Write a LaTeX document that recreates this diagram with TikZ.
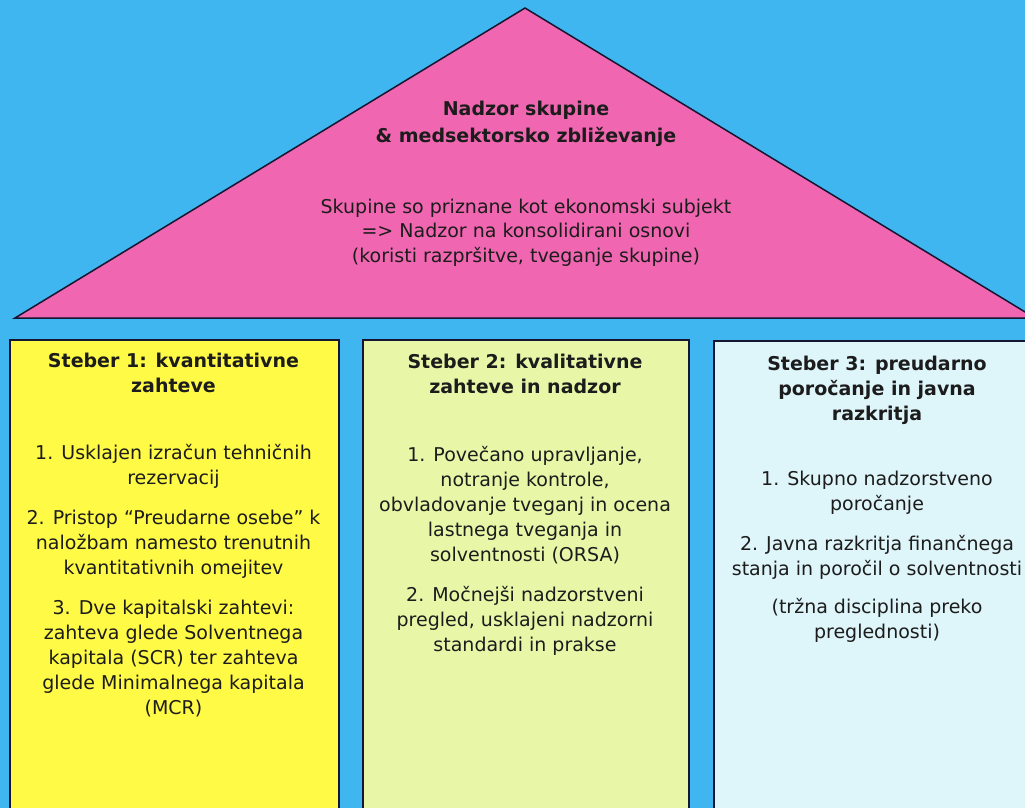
\documentclass[tikz,border=0pt]{standalone}
\usepackage{fontspec}
\setmainfont{DejaVu Sans}
\usepackage{tikz}

\definecolor{skyblue}{RGB}{64,182,240}
\definecolor{roofpink}{RGB}{240,102,176}
\definecolor{pillarone}{RGB}{255,250,70}
\definecolor{pillartwo}{RGB}{232,246,168}
\definecolor{pillarthree}{RGB}{222,245,250}
\definecolor{edge}{RGB}{20,22,50}
\definecolor{ink}{RGB}{28,28,28}

\tikzset{
    pillar/.style={draw=edge, line width=2pt, anchor=north west, inner sep=0pt},
    head/.style={font=\bfseries\fontsize{19}{25}\selectfont, text=ink, align=center, anchor=north, inner sep=0pt},
    body/.style={font=\fontsize{19}{25}\selectfont, text=ink, align=center, anchor=north, inner sep=0pt},
}

\begin{document}
\begin{tikzpicture}[x=1pt, y=-1pt]
    \useasboundingbox (0,0) rectangle (1025,808);
    \clip (0,0) rectangle (1025,808);
    \fill[skyblue] (0,0) rectangle (1025,808);
    % roof
    \draw[fill=roofpink, draw=edge, line width=1.5pt] (15,318) -- (525,8) -- (1035,318) -- cycle;
    \node[head, font=\bfseries\fontsize{19}{27}\selectfont] (rooftitle) at (526,100.6) {Nadzor skupine\\\& medsektorsko zbliževanje};
    \node[body, font=\fontsize{19}{24.5}\selectfont] (roofbody) at (526,198.6) {Skupine so priznane kot ekonomski subjekt\\=> Nadzor na konsolidirani osnovi\\(koristi razpršitve, tveganje skupine)};
    % pillars
    \node[pillar, fill=pillarone, minimum width=329pt, minimum height=490pt] (p1) at (9,339) {};
    \node[pillar, fill=pillartwo, minimum width=326pt, minimum height=490pt] (p2) at (362,339) {};
    \node[pillar, fill=pillarthree, minimum width=328pt, minimum height=490pt] (p3) at (713,340) {};
    % pillar 1
    \node[head] (h1) at (173.5,352.6) {Steber 1: kvantitativne\\zahteve};
    \node[body] (b1) at (173.5,443.6) {1. Usklajen izračun tehničnih\\rezervacij\\[15pt]
        2. Pristop “Preudarne osebe" k\\naložbam namesto trenutnih\\kvantitativnih omejitev\\[15pt]
        3. Dve kapitalski zahtevi:\\zahteva glede Solventnega\\kapitala (SCR) ter zahteva\\glede Minimalnega kapitala\\(MCR)};
    % pillar 2
    \node[head] (h2) at (525,353.6) {Steber 2: kvalitativne\\zahteve in nadzor};
    \node[body] (b2) at (525,445.6) {1. Povečano upravljanje,\\notranje kontrole,\\obvladovanje tveganj in ocena\\lastnega tveganja in\\solventnosti (ORSA)\\[15pt]
        2. Močnejši nadzorstveni\\pregled, usklajeni nadzorni\\standardi in prakse};
    % pillar 3
    \node[head] (h3) at (877,355.6) {Steber 3: preudarno\\poročanje in javna\\razkritja};
    \node[body] (b3) at (877,470.6) {1. Skupno nadzorstveno\\poročanje\\[15pt]
        2. Javna razkritja finančnega\\stanja in poročil o solventnosti\\[13pt]
        (tržna disciplina preko\\preglednosti)};
\end{tikzpicture}
\end{document}
